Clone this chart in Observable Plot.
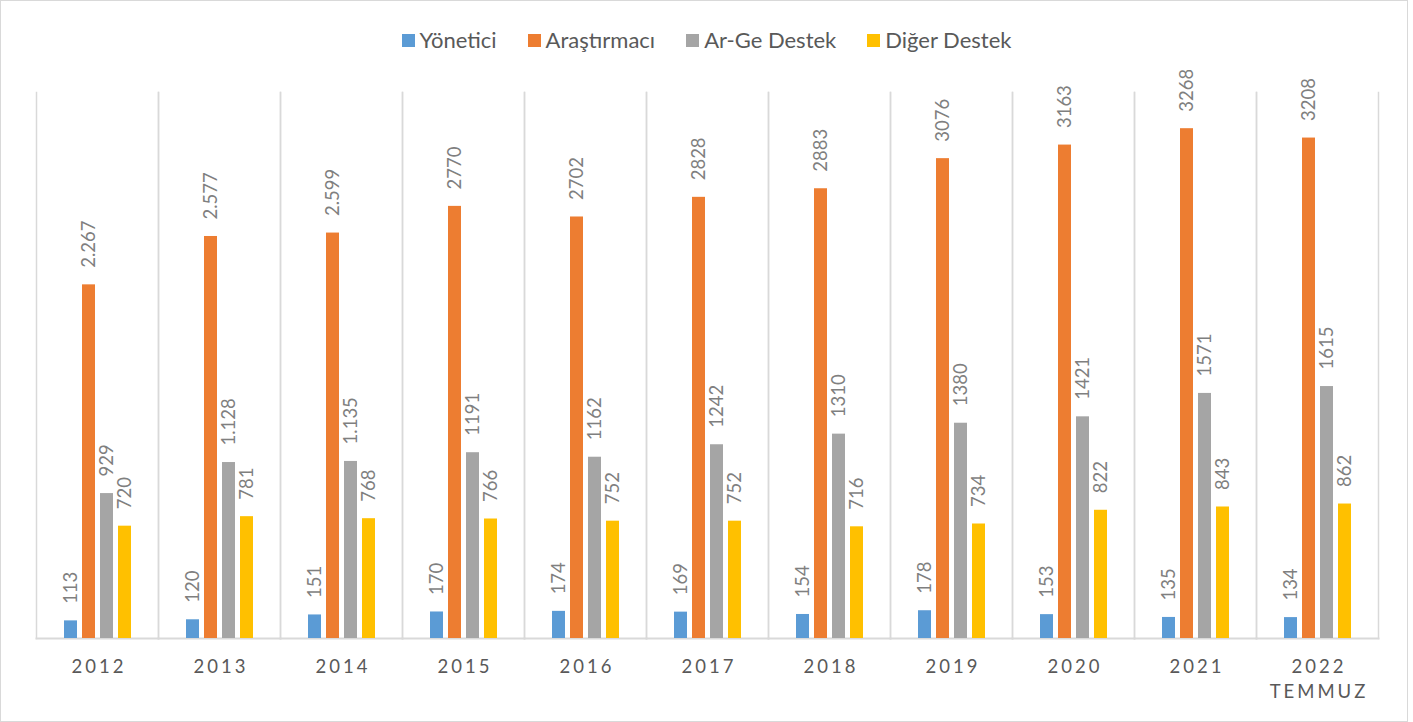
<!DOCTYPE html>
<html>
<head>
<meta charset="utf-8">
<script src="https://cdn.jsdelivr.net/npm/d3@7"></script>
<script src="https://cdn.jsdelivr.net/npm/@observablehq/plot@0.6"></script>
<style>
  html, body { margin: 0; padding: 0; background: #fff; }
  #wrap { position: relative; width: 1413px; height: 722px; overflow: hidden; font-family: Lato, "Noto Sans", sans-serif; }
  #border { position: absolute; left: 0; top: 0; width: 1408px; height: 722px; box-sizing: border-box; border: 1px solid #d9d9d9; pointer-events: none; }
  #legend { height: 70px; box-sizing: border-box; padding-top: 27px; display: flex; justify-content: center; align-items: flex-start; gap: 31px; font-size: 22px; color: #595959; line-height: 26px; }
  #legend .item { display: flex; align-items: center; gap: 5px; height: 26px; }
  #legend .sw { width: 13px; height: 13px; display: inline-block; }
  #chart svg { display: block; }
  #chart [aria-label="fx-axis tick label"] text { letter-spacing: 3px; }
</style>
</head>
<body>
<div id="wrap">
  <div id="legend"></div>
  <div id="chart"></div>
  <div id="border"></div>
</div>
<script>
const years = ["2012", "2013", "2014", "2015", "2016", "2017", "2018", "2019", "2020", "2021", "2022"];
const yearLabels = ["2012", "2013", "2014", "2015", "2016", "2017", "2018", "2019", "2020", "2021", "2022\nTEMMUZ"];
const series = ["Yönetici", "Araştırmacı", "Ar-Ge Destek", "Diğer Destek"];
const colors = ["#5b9bd5", "#ed7d31", "#a5a5a5", "#ffc000"];

const yonetici    = [113, 120, 151, 170, 174, 169, 154, 178, 153, 135, 134];
const arastirmaci = [2267, 2577, 2599, 2770, 2702, 2828, 2883, 3076, 3163, 3268, 3208];
const argeDestek  = [929, 1128, 1135, 1191, 1162, 1242, 1310, 1380, 1421, 1571, 1615];
const digerDestek = [720, 781, 768, 766, 752, 752, 716, 734, 822, 843, 862];

// years whose labels use a dot as thousands separator in the original
const dottedYears = ["2012", "2013", "2014"];

const values = [yonetici, arastirmaci, argeDestek, digerDestek];
const data = [];
years.forEach((yr, i) => {
  series.forEach((s, j) => {
    const v = values[j][i];
    const label = (dottedYears.includes(yr) && v >= 1000)
      ? String(v).replace(/(\d)(\d{3})$/, "$1.$2")
      : String(v);
    data.push({year: yr, series: s, value: v, label});
  });
});

// legend
const legend = document.getElementById("legend");
series.forEach((s, j) => {
  const it = document.createElement("div");
  it.className = "item";
  const sw = document.createElement("span");
  sw.className = "sw";
  sw.style.background = colors[j];
  const tx = document.createElement("span");
  tx.textContent = s;
  it.appendChild(sw);
  it.appendChild(tx);
  legend.appendChild(it);
});

const plot = Plot.plot({
  width: 1413,
  height: 652,
  marginTop: 22,
  marginBottom: 84,
  marginLeft: 35,
  marginRight: 35,
  style: {fontFamily: "Lato, 'Noto Sans', sans-serif", background: "transparent"},
  fx: {domain: years, padding: 0, label: null, axis: null},
  x: {domain: series, axis: null, paddingInner: 0.3, paddingOuter: 1.45},
  y: {domain: [0, 3500], axis: null},
  color: {domain: series, range: colors},
  marks: [
    Plot.frame({anchor: "left", stroke: "#d9d9d9", strokeWidth: 1.5, strokeOpacity: 1}),
    Plot.frame({anchor: "right", stroke: "#d9d9d9", strokeWidth: 1.5, strokeOpacity: 1}),
    Plot.frame({anchor: "bottom", stroke: "#d9d9d9", strokeWidth: 2, strokeOpacity: 1}),
    Plot.barY(data, {fx: "year", x: "series", y: "value", fill: "series"}),
    Plot.text(data, {
      fx: "year", x: "series", y: "value", text: "label",
      rotate: -90, textAnchor: "start", lineAnchor: "middle",
      dy: -17, fill: "#7f7f7f", fontSize: 18.5
    }),
    Plot.axisFx({
      anchor: "bottom",
      domain: years,
      tickSize: 0, tickPadding: 17, label: null,
      tickFormat: (d) => yearLabels[years.indexOf(d)],
      fontSize: 18.5, fill: "#595959", lineHeight: 1.35,
      dx: 1.5
    })
  ]
});
document.getElementById("chart").appendChild(plot);
</script>
</body>
</html>
